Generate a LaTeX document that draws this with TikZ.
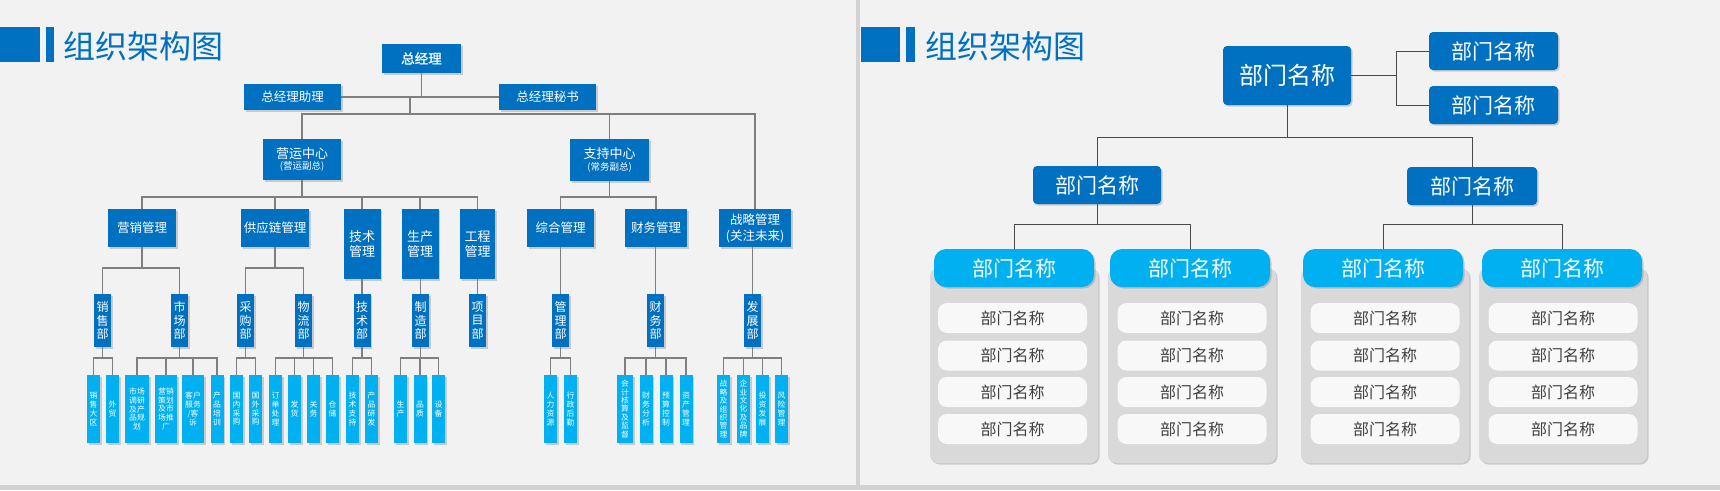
\documentclass[tikz,border=0pt]{standalone}
\usepackage{fontspec}
\setmainfont{Noto Sans CJK SC}
\newfontfamily\cjkbold[FakeBold=1.2]{Noto Sans CJK SC}
\usetikzlibrary{shadows}
\definecolor{bg}{HTML}{F2F2F2}
\definecolor{dblue}{HTML}{0070C0}
\definecolor{lblue}{HTML}{00B0F0}
\definecolor{lnL}{HTML}{7F7F7F}
\definecolor{lnR}{HTML}{4A4A4A}
\definecolor{panelc}{HTML}{D9D9D9}
\definecolor{itemc}{HTML}{F8F8F8}
\definecolor{itemtxt}{HTML}{404040}
\definecolor{divc}{HTML}{D2D2D2}
\newcommand\orgtree[5]{%
  \draw[lnl] (#1.south) -- (#1.south |- #5);
  \draw[lnl] (#2.north) |- (#3.north |- #5) -- (#3.north);
  \foreach \nn in {#4} {\draw[lnl] (\nn.north) -- (\nn.north |- #5);}
}
\tikzset{
  sz/.style 2 args={minimum width=#1pt,minimum height=#2pt},
  shd/.style={drop shadow={shadow xshift=1.5pt,shadow yshift=-1.5pt,opacity=0.35}},
  dbox/.style={fill=dblue,text=white,inner sep=0pt,align=center,shd},
  leaf/.style={fill=lblue,text=white,inner sep=0pt,align=center,shd,minimum width=13pt,minimum height=68pt,font=\fontsize{7.8}{8.8}\selectfont},
  subb/.style={dbox,minimum width=17pt,minimum height=53pt,font=\fontsize{12}{13.3}\selectfont},
  midb/.style={dbox,minimum height=38pt,font=\fontsize{12.5}{16}\selectfont},
  tallb/.style={dbox,minimum width=37pt,minimum height=70pt,font=\fontsize{13}{15}\selectfont},
  lnl/.style={draw=lnL,line width=1.3pt},
  rln/.style={draw=lnR,line width=1pt},
  rbox/.style={fill=dblue,text=white,inner sep=0pt,rounded corners=4pt,shd},
  cyanb/.style={fill=lblue,text=white,inner sep=0pt,rounded corners=12pt,shd,minimum width=160pt,minimum height=38pt,font=\fontsize{21}{24}\selectfont},
  pnl/.style={fill=panelc,rounded corners=8pt,shd,minimum width=168pt,minimum height=195pt,inner sep=0pt},
  itm/.style={fill=itemc,text=itemtxt,rounded corners=9pt,minimum width=149pt,minimum height=30pt,inner sep=0pt,font=\fontsize{16}{18}\selectfont},
  ttl/.style={anchor=west,text=dblue,inner sep=0pt,font=\fontsize{32}{36}\selectfont}
}
\begin{document}
\begin{tikzpicture}[x=1pt,y=-1pt]
\useasboundingbox (0,0) rectangle (1720,490);
\fill[bg] (0,0) rectangle (1720,490);
\fill[divc] (856,0) rectangle (860,485);
\fill[divc] (0,485) rectangle (1720,490);

% titles
\fill[dblue] (0,27) rectangle (39.5,62);
\fill[dblue] (45.5,27) rectangle (54,62);
\node[ttl] (title1) at (63,46) {组织架构图};
\fill[dblue] (861,27) rectangle (900,62);
\fill[dblue] (906,27) rectangle (915,62);
\node[ttl] (title2) at (925,46) {组织架构图};

% ---------- left chart ----------
\node[dbox,sz={79}{29},font=\cjkbold\fontsize{13.5}{16}\selectfont] (gm) at (421.5,58.5) {总经理};
\node[dbox,sz={97}{26},font=\fontsize{12.5}{15}\selectfont] (ast) at (292.5,97) {总经理助理};
\node[dbox,sz={97}{26},font=\fontsize{12.5}{15}\selectfont] (sec) at (547.5,97) {总经理秘书};

\node[dbox,sz={78}{41},font=\fontsize{9.5}{11.5}\selectfont] (ops) at (302,159.5) {{\fontsize{13}{13}\selectfont 营运中心}\\(营运副总)};
\node[dbox,sz={79}{42},font=\fontsize{9.5}{11.5}\selectfont] (sup) at (609.5,160) {{\fontsize{13}{13}\selectfont 支持中心}\\(常务副总)};

\node[midb,minimum width=68pt] (mk) at (142,228) {营销管理};
\node[midb,minimum width=68pt] (sc) at (275,228) {供应链管理};
\node[tallb] (tech) at (362,244) {技术\\管理};
\node[tallb] (prod) at (420,244) {生产\\管理};
\node[tallb,minimum width=35pt] (eng) at (477.5,244) {工程\\管理};
\node[midb,minimum width=67pt] (gen) at (560.5,228) {综合管理};
\node[midb,minimum width=62pt] (fin) at (656,228) {财务管理};
\node[midb,minimum width=72pt] (str) at (755,228) {战略管理\\(关注未来)};

\node[subb] (xs) at (102.5,320.5) {销\\售\\部};
\node[subb] (scb) at (179.5,320.5) {市\\场\\部};
\node[subb] (cgb) at (245.5,320.5) {采\\购\\部};
\node[subb] (wlb) at (303.5,320.5) {物\\流\\部};
\node[subb] (jsb) at (362,320.5) {技\\术\\部};
\node[subb] (zzb) at (420.5,320.5) {制\\造\\部};
\node[subb] (xmb) at (477.5,320.5) {项\\目\\部};
\node[subb] (glb) at (560.5,320.5) {管\\理\\部};
\node[subb] (cwb) at (655.5,320.5) {财\\务\\部};
\node[subb] (fzb) at (752.5,320.5) {发\\展\\部};

\node[leaf] (a1) at (93.5,409) {销\\售\\大\\区};
\node[leaf] (a2) at (112.5,409) {外\\贸};
\node[leaf,minimum width=24pt] (b1) at (137,409) {市场\\调研\\及产\\品规\\划};
\node[leaf,minimum width=22pt] (b2) at (166,409) {营销\\策划\\及市\\场推\\广};
\node[leaf,minimum width=22pt] (b3) at (193,409) {客户\\服务\\/客\\诉};
\node[leaf] (b4) at (217,409) {产\\品\\培\\训};
\node[leaf] (c1) at (236.5,409) {国\\内\\采\\购};
\node[leaf] (c2) at (255.5,409) {国\\外\\采\\购};
\node[leaf] (d1) at (275.5,409) {订\\单\\处\\理};
\node[leaf] (d2) at (294.5,409) {发\\货};
\node[leaf] (d3) at (313.5,409) {关\\务};
\node[leaf] (d4) at (332.5,409) {仓\\储};
\node[leaf] (e1) at (352.5,409) {技\\术\\支\\持};
\node[leaf] (e2) at (371.5,409) {产\\品\\研\\发};
\node[leaf] (f1) at (400.5,409) {生\\产};
\node[leaf] (f2) at (420,409) {品\\质};
\node[leaf] (f3) at (438.5,409) {设\\备};
\node[leaf] (g1) at (550.5,409) {人\\力\\资\\源};
\node[leaf] (g2) at (570.5,409) {行\\政\\后\\勤};
\node[leaf,minimum width=16pt,font=\fontsize{7.8}{8.4}\selectfont] (h1) at (625,409) {会\\计\\核\\算\\及\\监\\督};
\node[leaf] (h2) at (646,409) {财\\务\\分\\析};
\node[leaf] (h3) at (666,409) {预\\算\\控\\制};
\node[leaf] (h4) at (686,409) {资\\产\\管\\理};
\node[leaf,font=\fontsize{7.8}{8.4}\selectfont] (i1) at (723.5,409) {战\\略\\及\\组\\织\\管\\理};
\node[leaf,font=\fontsize{7.8}{8.4}\selectfont] (i2) at (743.5,409) {企\\业\\文\\化\\及\\品\\牌};
\node[leaf] (i3) at (762.5,409) {投\\资\\发\\展};
\node[leaf] (i4) at (781.5,409) {风\\险\\管\\理};

\coordinate (jA) at (410,97);
\coordinate (yT) at (0,114);
\coordinate (yM) at (0,197);
\coordinate (yS) at (0,268);
\coordinate (yL) at (0,358);

\draw[lnl] (gm.south) -- (gm.south |- ast.east);
\draw[lnl] (ast.east) -- (sec.west);
\draw[lnl] (jA) -- (jA |- yT);
\draw[lnl] (ops.north) |- (str.north |- yT) -- (str.north);
\draw[lnl] (sup.north) -- (sup.north |- yT);

\orgtree{ops}{mk}{eng}{mk,sc,tech,prod,eng}{yM}
\orgtree{sup}{gen}{fin}{gen,fin}{yM}
\orgtree{mk}{xs}{scb}{xs,scb}{yS}
\orgtree{sc}{cgb}{wlb}{cgb,wlb}{yS}
\draw[lnl] (jsb.north |- tech.south) -- (jsb.north);
\draw[lnl] (zzb.north |- prod.south) -- (zzb.north);
\draw[lnl] (xmb.north |- eng.south) -- (xmb.north);
\draw[lnl] (glb.north |- gen.south) -- (glb.north);
\draw[lnl] (cwb.north |- fin.south) -- (cwb.north);
\draw[lnl] (fzb.north |- str.south) -- (fzb.north);

\orgtree{xs}{a1}{a2}{a1,a2}{yL}
\orgtree{scb}{b1}{b4}{b1,b2,b3,b4}{yL}
\orgtree{cgb}{c1}{c2}{c1,c2}{yL}
\orgtree{wlb}{d1}{d4}{d1,d2,d3,d4}{yL}
\orgtree{jsb}{e1}{e2}{e1,e2}{yL}
\orgtree{zzb}{f1}{f3}{f1,f2,f3}{yL}
\orgtree{glb}{g1}{g2}{g1,g2}{yL}
\orgtree{cwb}{h1}{h4}{h1,h2,h3,h4}{yL}
\orgtree{fzb}{i1}{i4}{i1,i2,i3,i4}{yL}

% ---------- right chart ----------
\node[rbox,sz={128}{59},font=\fontsize{24}{28}\selectfont] (rt) at (1287,75.5) {部门名称};
\node[rbox,sz={129}{38},font=\fontsize{21}{24}\selectfont] (ru) at (1493.5,51) {部门名称};
\node[rbox,sz={129}{38},font=\fontsize{21}{24}\selectfont] (rl) at (1493.5,105) {部门名称};
\node[rbox,sz={128}{38},font=\fontsize{21}{24}\selectfont] (ml) at (1097,185) {部门名称};
\node[rbox,sz={130}{38},font=\fontsize{21}{24}\selectfont] (mr) at (1472,186) {部门名称};

\node[pnl] (p1) at (1014,365.5) {};
\node[pnl] (p2) at (1192,365.5) {};
\node[pnl] (p3) at (1385,365.5) {};
\node[pnl] (p4) at (1563,365.5) {};
\node[cyanb] (cy1) at (1014,268) {部门名称};
\node[cyanb] (cy2) at (1190,268) {部门名称};
\node[cyanb] (cy3) at (1383,268) {部门名称};
\node[cyanb] (cy4) at (1562,268) {部门名称};
\foreach \cx [count=\i] in {1012.5,1192,1385,1563}
  \foreach \ry [count=\j] in {318,355.5,392,429}
    \node[itm] (it\i\j) at (\cx,\ry) {部门名称};

\coordinate (rJ) at (1396,0);
\coordinate (rB) at (0,137);
\coordinate (rB2) at (0,224);
\draw[rln] (rt.east) -- (rt.east -| rJ);
\draw[rln] (ru.west) -| (rJ |- rl.west) -- (rl.west);
\draw[rln] (rt.south) -- (rt.south |- rB);
\draw[rln] (ml.north) |- (mr.north |- rB) -- (mr.north);
\draw[rln] (ml.south) -- (ml.south |- rB2);
\draw[rln] (cy1.north) |- (cy2.north |- rB2) -- (cy2.north);
\draw[rln] (mr.south) -- (mr.south |- rB2);
\draw[rln] (cy3.north) |- (cy4.north |- rB2) -- (cy4.north);
\end{tikzpicture}
\end{document}
